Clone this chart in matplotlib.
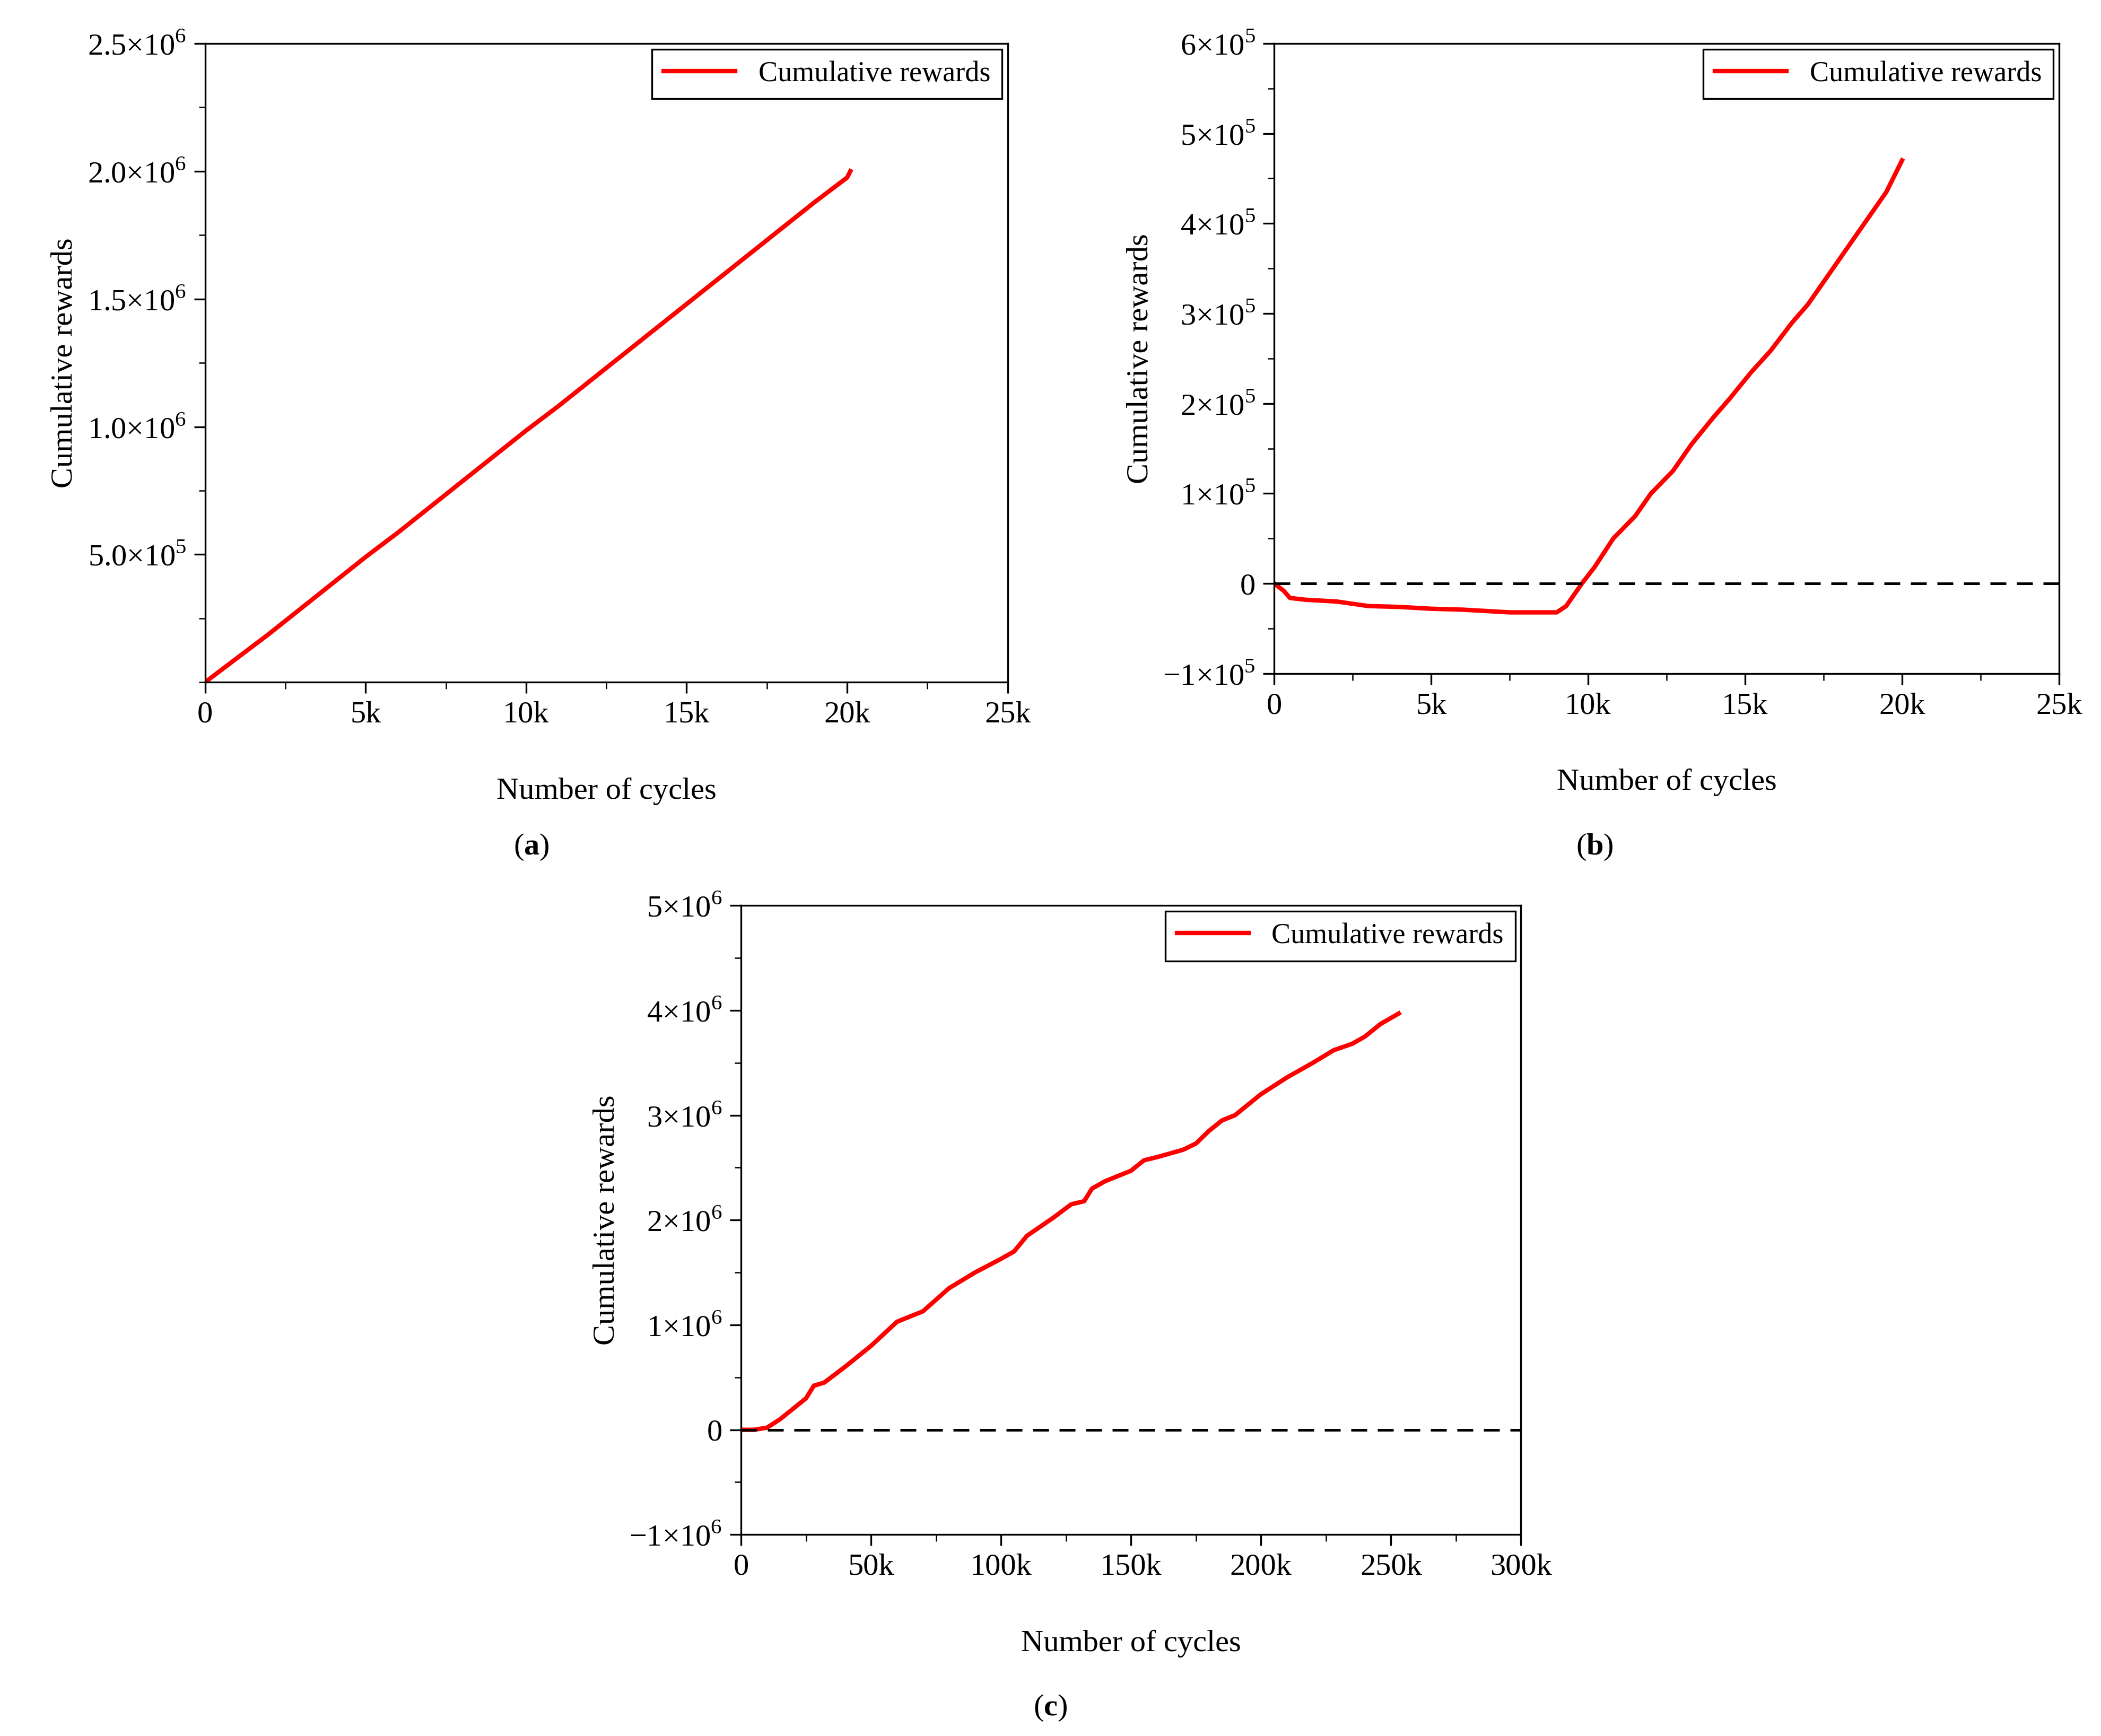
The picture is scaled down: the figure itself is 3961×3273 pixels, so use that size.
import matplotlib
matplotlib.use("Agg")
import matplotlib.pyplot as plt
from matplotlib.ticker import FixedLocator, AutoMinorLocator

plt.rcParams["font.family"] = "Liberation Serif"
plt.rcParams["mathtext.fontset"] = "custom"
plt.rcParams["mathtext.rm"] = "Liberation Serif"
plt.rcParams["mathtext.bf"] = "Liberation Serif:bold"

# panel (a)
a_x = [0, 1000, 2000, 3000, 4000, 5000, 6000, 7000, 8000, 9000, 10000, 11000, 12000,
       13000, 14000, 15000, 16000, 17000, 18000, 19000, 20000, 20100]
a_y = [0, 95e3, 190e3, 290e3, 390e3, 490e3, 585e3, 685e3, 785e3, 885e3, 985e3, 1080e3,
       1180e3, 1280e3, 1380e3, 1480e3, 1580e3, 1680e3, 1780e3, 1880e3, 1975e3, 2000e3]
# panel (b)
b_x = [0, 300, 500, 1000, 2000, 3000, 4000, 5000, 6000, 7000, 7500, 8500, 9000, 9300,
       9800, 10200, 10800, 11500, 12000, 12700, 13300, 14000, 14500, 15200, 15800,
       16500, 17000, 17500, 18000, 18500, 19000, 19500, 20000]
b_y = [0, -8e3, -16e3, -18e3, -20e3, -25e3, -26e3, -28e3, -29e3, -31e3, -32e3, -32e3,
       -32e3, -25e3, 0, 18e3, 50e3, 75e3, 100e3, 125e3, 155e3, 185e3, 205e3, 235e3,
       258e3, 290e3, 310e3, 335e3, 360e3, 385e3, 410e3, 435e3, 470e3]
# panel (c)
c_x = [0, 5e3, 10e3, 15e3, 20e3, 25e3, 28e3, 32e3, 40e3, 50e3, 60e3, 70e3, 80e3, 90e3,
       100e3, 105e3, 110e3, 120e3, 127e3, 132e3, 135e3, 140e3, 150e3, 155e3, 160e3,
       170e3, 175e3, 180e3, 185e3, 190e3, 200e3, 210e3, 220e3, 228e3, 235e3, 240e3,
       246e3, 253e3]
c_y = [0, 0, 0.02e6, 0.1e6, 0.2e6, 0.3e6, 0.42e6, 0.45e6, 0.6e6, 0.8e6, 1.03e6, 1.13e6,
       1.35e6, 1.5e6, 1.63e6, 1.7e6, 1.85e6, 2.02e6, 2.15e6, 2.18e6, 2.3e6, 2.37e6,
       2.47e6, 2.57e6, 2.6e6, 2.67e6, 2.73e6, 2.85e6, 2.95e6, 3.0e6, 3.2e6, 3.36e6,
       3.5e6, 3.62e6, 3.68e6, 3.75e6, 3.87e6, 3.97e6]

fig = plt.figure(figsize=(3961 / 300, 3273 / 300), dpi=300)
fs = 14


def style(ax, xlim, xticks, xlabels, ylim, yticks, ylabels):
    ax.set_xlim(*xlim)
    ax.set_ylim(*ylim)
    ax.xaxis.set_major_locator(FixedLocator(xticks))
    ax.set_xticklabels(xlabels)
    ax.yaxis.set_major_locator(FixedLocator(yticks))
    ax.set_yticklabels(ylabels)
    ax.xaxis.set_minor_locator(AutoMinorLocator(2))
    ax.yaxis.set_minor_locator(AutoMinorLocator(2))
    ax.tick_params(which="both", direction="out", labelsize=fs, top=False, right=False)
    ax.tick_params(which="major", length=5)
    ax.tick_params(which="minor", length=3)
    ax.set_xlabel("Number of cycles", fontsize=fs, labelpad=22)
    ax.set_ylabel("Cumulative rewards", fontsize=fs)
    leg = ax.legend(loc="upper right", fontsize=fs - 1, fancybox=False, framealpha=1,
                    edgecolor="black", handlelength=2.5, borderaxespad=0.2)
    leg.get_frame().set_linewidth(0.8)


ax1 = fig.add_axes([0.0976, 0.607, 0.382, 0.368])
ax1.plot(a_x, a_y, color="red", lw=2, label="Cumulative rewards")
style(ax1, (0, 25000), [0, 5000, 10000, 15000, 20000, 25000],
      ["0", "5k", "10k", "15k", "20k", "25k"],
      (0, 2.5e6), [5e5, 1e6, 1.5e6, 2e6, 2.5e6],
      [r"5.0$\times$10$^5$", r"1.0$\times$10$^6$", r"1.5$\times$10$^6$",
       r"2.0$\times$10$^6$", r"2.5$\times$10$^6$"])

ax2 = fig.add_axes([0.6065, 0.612, 0.3735, 0.363])
ax2.plot(b_x, b_y, color="red", lw=2, label="Cumulative rewards")
ax2.axhline(0, color="black", lw=1.2, ls=(0, (6, 4)))
style(ax2, (0, 25000), [0, 5000, 10000, 15000, 20000, 25000],
      ["0", "5k", "10k", "15k", "20k", "25k"],
      (-1e5, 6e5), [-1e5, 0, 1e5, 2e5, 3e5, 4e5, 5e5, 6e5],
      [r"$-$1$\times$10$^5$", "0"] + [r"%d$\times$10$^5$" % i for i in range(1, 7)])

ax3 = fig.add_axes([0.3527, 0.116, 0.3712, 0.3624])
ax3.plot(c_x, c_y, color="red", lw=2, label="Cumulative rewards")
ax3.axhline(0, color="black", lw=1.2, ls=(0, (6, 4)))
style(ax3, (0, 300000), [0, 50e3, 100e3, 150e3, 200e3, 250e3, 300e3],
      ["0", "50k", "100k", "150k", "200k", "250k", "300k"],
      (-1e6, 5e6), [-1e6, 0, 1e6, 2e6, 3e6, 4e6, 5e6],
      [r"$-$1$\times$10$^6$", "0"] + [r"%d$\times$10$^6$" % i for i in range(1, 6)])

fig.text(0.253, 0.508, r"($\mathbf{a}$)", fontsize=fs, ha="center")
fig.text(0.759, 0.508, r"($\mathbf{b}$)", fontsize=fs, ha="center")
fig.text(0.5, 0.012, r"($\mathbf{c}$)", fontsize=fs, ha="center")

fig.savefig("out.png", dpi=300)
